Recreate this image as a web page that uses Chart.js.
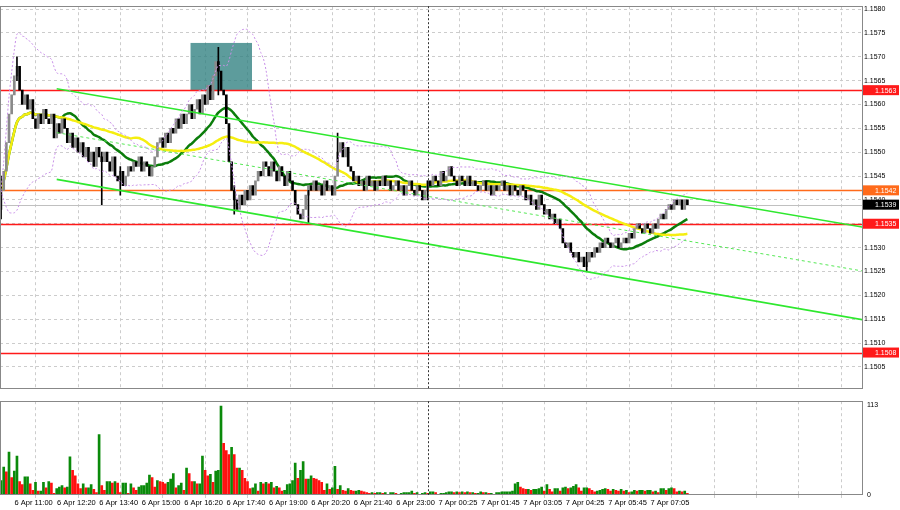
<!DOCTYPE html>
<html><head><meta charset="utf-8">
<script src="https://cdn.jsdelivr.net/npm/chart.js@4.4.1/dist/chart.umd.min.js"></script>
<style>html,body{margin:0;padding:0;background:#fff;width:900px;height:510px;overflow:hidden}
#p{position:absolute;left:0;top:0}#v{position:absolute;left:0;top:395px}</style>
</head><body>
<canvas id="p" width="900" height="395"></canvas>
<canvas id="v" width="900" height="112"></canvas>
<script>
// ---- data (5-minute candles) ----
const closes = [
1.1542,1.1546,1.1552,1.1558,1.1562,1.1566,1.1568,1.1563,1.1560,1.1562,
1.1559,1.1561,1.1557,1.1555,1.1558,1.1556,1.1559,1.1557,1.1556,1.1558,
1.1553,1.1556,1.1554,1.1557,1.1555,1.1552,1.1554,1.1551,1.1553,1.1550,
1.1552,1.1549,1.1551,1.1548,1.1550,1.1547,1.1551,1.1549,1.1548,1.1550,
1.1548,1.1546,1.1549,1.1545,1.1544,1.1546,1.1543,1.1545,1.1547,1.1546,
1.1548,1.1547,1.1549,1.1546,1.1548,1.1547,1.1545,1.1547,1.1549,1.1552,
1.1553,1.1551,1.1554,1.1552,1.1555,1.1554,1.1557,1.1555,1.1558,1.1556,
1.1558,1.1560,1.1557,1.1559,1.1561,1.1558,1.1562,1.1560,1.1564,1.1561,
1.1566,1.1569,1.1567,1.1563,1.1562,1.1556,1.1548,1.1542,1.1540,1.1538,
1.1541,1.1539,1.1542,1.1540,1.1543,1.1541,1.1544,1.1546,1.1545,1.1548,
1.1547,1.1545,1.1548,1.1546,1.1544,1.1547,1.1545,1.1543,1.1546,1.1544,
1.1542,1.1539,1.1537,1.1536,1.1538,1.1541,1.1543,1.1542,1.1544,1.1542,
1.1543,1.1541,1.1544,1.1542,1.1543,1.1541,1.1545,1.1550,1.1552,1.1549,
1.1551,1.1547,1.1546,1.1544,1.1545,1.1543,1.1544,1.1542,1.1545,1.1543,
1.1544,1.1542,1.1544,1.1543,1.1545,1.1543,1.1544,1.1542,1.1543,1.1544,
1.1542,1.1543,1.1541,1.1543,1.1544,1.1542,1.1541,1.1543,1.1542,1.1540,
1.1542,1.1544,1.1543,1.1545,1.1544,1.1543,1.1546,1.1544,1.1545,1.1547,
1.1545,1.1544,1.1543,1.1545,1.1544,1.1543,1.1545,1.1543,1.1544,1.1543,
1.1542,1.1543,1.1544,1.1542,1.1543,1.1541,1.1543,1.1542,1.1543,1.1544,
1.1542,1.1543,1.1541,1.1543,1.1542,1.1541,1.1543,1.1542,1.1540,1.1541,
1.1539,1.1540,1.1538,1.1541,1.1539,1.1537,1.1538,1.1536,1.1537,1.1535,
1.1536,1.1534,1.1531,1.1530,1.1531,1.1529,1.1528,1.1529,1.1527,1.1528,
1.1526,1.1527,1.1529,1.1528,1.1530,1.1529,1.1531,1.1530,1.1532,1.1531,
1.1530,1.1531,1.1532,1.1530,1.1531,1.1532,1.1531,1.1533,1.1532,1.1534,
1.1535,1.1534,1.1533,1.1535,1.1534,1.1533,1.1535,1.1534,1.1536,1.1537,
1.1536,1.1538,1.1539,1.1538,1.1540,1.1539,1.1540,1.1538,1.1540,1.1539];
const firstOpen = 1.1538;
// notable wicks: [index, high, low]
const wicks = [[0,1.1545,1.1536],[6,1.1570,1.1565],[38,1.1550,1.1539],[45,1.1547,1.1541],[82,1.1572,1.1562],
 [88,1.1543,1.1537],[116,1.1542,1.1535],[127,1.1554,1.1548],[221,1.1529,1.1525],[161,1.1544,1.1540]];
const volumes = [
18,35,29,54,22,30,49,17,13,23, 23,14,6,16,5,5,16,9,17,15, 2,8,10,12,9,10,48,31,24,14,
8,14,9,9,13,7,3,76,12,6, 17,17,15,17,15,3,15,15,2,14, 9,6,10,12,12,15,25,22,10,18,
17,16,14,16,20,27,9,12,15,6, 34,27,17,17,14,14,49,31,24,26, 16,30,31,112,65,56,51,60,51,34,
34,31,21,17,8,9,14,5,16,14, 16,14,16,9,11,9,5,6,13,14, 18,40,21,31,42,20,20,24,21,20,
18,16,6,14,7,9,36,7,12,6, 5,8,6,5,5,6,5,4,3,2, 3,2,3,3,2,3,1,3,3,2,
1,2,3,3,3,5,2,3,1,2, 3,2,4,4,3,1,2,2,3,4, 4,3,4,3,4,3,4,3,3,2,
2,4,3,3,2,2,1,3,3,4, 4,4,4,5,14,16,10,8,7,7, 6,7,7,8,10,5,13,7,4,8,
8,5,9,10,8,9,11,13,9,5, 9,9,8,6,4,5,6,7,8,7, 5,7,6,5,7,5,6,3,4,6,
5,6,6,5,6,6,4,5,3,8, 8,6,8,9,8,4,5,4,5,2];
const timeLabels = ['6 Apr 11:00','6 Apr 12:20','6 Apr 13:40','6 Apr 15:00','6 Apr 16:20','6 Apr 17:40',
 '6 Apr 19:00','6 Apr 20:20','6 Apr 21:40','6 Apr 23:00','7 Apr 00:25','7 Apr 01:45','7 Apr 03:05',
 '7 Apr 04:25','7 Apr 05:45','7 Apr 07:05'];
const priceTicks = [1.1505,1.1510,1.1515,1.1520,1.1525,1.1530,1.1535,1.1540,1.1545,1.1550,1.1555,1.1560,1.1565,1.1570,1.1575,1.1580];
const levels = [{v:1.1563,c:'#ff1a1a'},{v:1.1542,c:'#ff6a1a'},{v:1.1535,c:'#ff1a1a'},{v:1.1508,c:'#ff1a1a'}];
const lastPrice = 1.1539;
const channelUpper = [[21,1.15633],[325,1.15343]];
const channelLower = [[21,1.15443],[325,1.15149]];
const channelMid = [[21,1.15541],[325,1.15251]];
const zoneBox = {x0:71.5,x1:94.7,y0:1.1563,y1:1.15729};
const daySplit = 161.1;

// ---- derived ----
const opens = closes.map((c,i)=> i===0 ? firstOpen : closes[i-1]);
function sma(n){return closes.map((c,i)=>{const s=closes.slice(Math.max(0,i-n+1),i+1);return s.reduce((a,b)=>a+b,0)/s.length;});}
const maFast = sma(24), maSlow = sma(50), bbMid = sma(20);
const bbSd = closes.map((c,i)=>{const s=closes.slice(Math.max(0,i-19),i+1);const m=bbMid[i];return Math.sqrt(s.reduce((a,b)=>a+(b-m)*(b-m),0)/s.length);});
const pts = a=>a.map((v,i)=>({x:i,y:v}));
const XMIN=-0.4, XMAX=324.9;
const tickIdx = []; for(let k=0;k<20;k++) tickIdx.push(5.1+16*k);
const font = {family:'Liberation Sans, Arial',size:7.5};

function fixW(s){s.width=38;}

const frame = {id:'frame',afterDraw(ch){const a=ch.chartArea,c=ch.ctx;c.save();c.strokeStyle='#888';c.lineWidth=1;
 c.strokeRect(Math.floor(a.left)+0.5,Math.floor(a.top)+0.5,Math.floor(a.right-a.left),Math.floor(a.bottom-a.top));
 const x=ch.scales.x.getPixelForValue(daySplit);c.strokeStyle='#333';c.setLineDash([2,2]);c.beginPath();c.moveTo(Math.round(x)+0.5,a.top);c.lineTo(Math.round(x)+0.5,a.bottom);c.stroke();c.restore();}};

const priceDecor = {id:'pd',
 beforeDatasetsDraw(ch){const c=ch.ctx,xs=ch.scales.x,ys=ch.scales.y,a=ch.chartArea;c.save();
  c.fillStyle='rgba(47,128,128,0.78)';
  const x0=xs.getPixelForValue(zoneBox.x0),x1=xs.getPixelForValue(zoneBox.x1),y0=ys.getPixelForValue(zoneBox.y1),y1=ys.getPixelForValue(zoneBox.y0);
  c.fillRect(x0,y0,x1-x0,y1-y0);
  const ly=Math.round(ys.getPixelForValue(lastPrice))+0.5;c.strokeStyle='#c0c0c0';c.beginPath();c.moveTo(a.left,ly);c.lineTo(a.right,ly);c.stroke();
  levels.forEach(l=>{const y=Math.round(ys.getPixelForValue(l.v))+0.5;c.strokeStyle=l.c;c.lineWidth=1.3;c.beginPath();c.moveTo(a.left,y);c.lineTo(a.right,y);c.stroke();});
  c.restore();},
 afterDraw(ch){const c=ch.ctx,ys=ch.scales.y,a=ch.chartArea;c.save();c.font='7px Liberation Sans, Arial';c.textBaseline='middle';
  const box=(v,bg,fg)=>{const y=ys.getPixelForValue(v);c.fillStyle=bg;c.fillRect(a.right+1,y-5,36,10);c.fillStyle=fg;c.fillText(v.toFixed(4),a.right+13,y+0.5);};
  levels.forEach(l=>box(l.v,l.c,'#fff'));box(lastPrice,'#000','#fff');c.restore();}};

new Chart(document.getElementById('p'),{
 data:{datasets:[
  {type:'line',data:pts(bbMid.map((m,i)=>m+2*bbSd[i])),borderColor:'#c890e8',borderWidth:1,borderDash:[2,2],pointRadius:0,tension:0.3},
  {type:'line',data:pts(bbMid.map((m,i)=>m-2*bbSd[i])),borderColor:'#c890e8',borderWidth:1,borderDash:[2,2],pointRadius:0,tension:0.3},
  {type:'line',data:channelUpper.map(p=>({x:p[0],y:p[1]})),borderColor:'#2ee82e',borderWidth:1.6,pointRadius:0},
  {type:'line',data:channelLower.map(p=>({x:p[0],y:p[1]})),borderColor:'#2ee82e',borderWidth:1.6,pointRadius:0},
  {type:'line',data:channelMid.map(p=>({x:p[0],y:p[1]})),borderColor:'#55e855',borderWidth:1,borderDash:[3,3],pointRadius:0},
  {type:'bar',data:wicks.map(w=>({x:w[0],y:[w[2],w[1]]})),backgroundColor:'#000',barThickness:1,grouped:false},
  {type:'bar',data:closes.map((c,i)=>({x:i,y:[opens[i],c===opens[i]?c+0.00003:c]})),
   backgroundColor:closes.map((c,i)=>c>=opens[i]?'#8a8a8a':'#000'),barThickness:2,grouped:false},
  {type:'line',data:pts(maSlow),borderColor:'#f5ee10',borderWidth:2.5,pointRadius:0,tension:0.4},
  {type:'line',data:pts(maFast),borderColor:'#0b7d0b',borderWidth:2.5,pointRadius:0,tension:0.4}
 ]},
 options:{responsive:false,animation:false,events:[],layout:{padding:0},
  plugins:{legend:{display:false},tooltip:{enabled:false}},
  scales:{
   x:{type:'linear',min:XMIN,max:XMAX,offset:false,afterBuildTicks:s=>{s.ticks=tickIdx.map(v=>({value:v}));},
      ticks:{display:false},grid:{color:'#cccccc',tickLength:0},border:{display:false,dash:[3,3]}},
   y:{position:'right',min:1.15004,max:1.15806,afterFit:fixW,afterBuildTicks:s=>{s.ticks=priceTicks.map(v=>({value:v}));},
      ticks:{font:{...font,size:7},color:'#000',padding:2,callback:v=>v.toFixed(4)},
      grid:{color:'#cccccc',tickLength:0},border:{display:false,dash:[3,3]}}
  }},
 plugins:[priceDecor,frame]
});

new Chart(document.getElementById('v'),{
 type:'bar',
 data:{datasets:[{data:volumes.map((v,i)=>({x:i,y:v})),
  backgroundColor:volumes.map((v,i)=> i>0 && v<volumes[i-1] ? '#ff1010':'#0a8a0a'),barThickness:2}]},
 options:{responsive:false,animation:false,events:[],layout:{padding:{top:2,bottom:0,left:0,right:0}},
  plugins:{legend:{display:false},tooltip:{enabled:false}},
  scales:{
   x:{type:'linear',min:XMIN,max:XMAX,offset:false,afterBuildTicks:s=>{s.ticks=tickIdx.map(v=>({value:v}));},
      ticks:{font,color:'#000',maxRotation:0,autoSkip:false,align:'start',padding:0,
       callback:(v,i)=>timeLabels[i]||''},
      grid:{color:'#cccccc',tickLength:3},border:{display:false,dash:[3,3]}},
   y:{position:'right',min:0,max:118,afterFit:fixW,afterBuildTicks:s=>{s.ticks=[{value:0},{value:113}];},
      ticks:{font:{...font,size:7},color:'#000',padding:2},grid:{display:false,tickLength:3},border:{display:false}}
  }},
 plugins:[frame]
});
</script></body></html>
